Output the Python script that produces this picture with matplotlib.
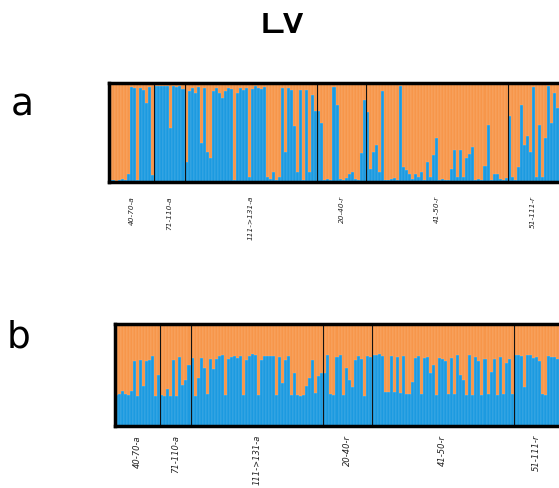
import matplotlib
matplotlib.use('Agg')
import matplotlib.pyplot as plt
from matplotlib.patches import Rectangle

groups = ['40-70-a', '71-110-a', '111->131-a', '20-40-r', '41-50-r', '51-111-r']

# blue (cluster 1) share per individual, panel a
a_vals = [
    [0.02, 0.02, 0.01, 0.02, 0.03, 0.02, 0.08, 0.96, 0.95, 0.02, 0.95, 0.93, 0.80, 0.96, 0.07],
    [0.97, 0.97, 0.97, 0.97, 0.97, 0.55, 0.97, 0.96, 0.97, 0.94],
    [0.20, 0.92, 0.95, 0.90, 0.96, 0.39, 0.95, 0.30, 0.24, 0.92, 0.95, 0.90, 0.85, 0.92, 0.95,
     0.94, 0.02, 0.90, 0.95, 0.93, 0.95, 0.05, 0.94, 0.97, 0.95, 0.94, 0.96, 0.05, 0.03, 0.10,
     0.02, 0.05, 0.95, 0.30, 0.95, 0.93, 0.57, 0.10, 0.93, 0.02, 0.93, 0.10, 0.88, 0.72],
    [0.72, 0.60, 0.02, 0.03, 0.02, 0.96, 0.78, 0.03, 0.02, 0.04, 0.08, 0.10, 0.03, 0.02, 0.29, 0.83],
    [0.71, 0.13, 0.30, 0.37, 0.10, 0.92, 0.02, 0.02, 0.03, 0.04, 0.02, 0.97, 0.15, 0.12, 0.08,
     0.03, 0.08, 0.05, 0.10, 0.02, 0.20, 0.05, 0.27, 0.44, 0.02, 0.03, 0.02, 0.02, 0.13, 0.32,
     0.05, 0.32, 0.05, 0.24, 0.28, 0.35, 0.02, 0.03, 0.02, 0.16, 0.58, 0.02, 0.08, 0.08, 0.03,
     0.02, 0.04],
    [0.67, 0.05, 0.02, 0.15, 0.78, 0.37, 0.46, 0.30, 0.96, 0.05, 0.58, 0.05, 0.44, 0.97, 0.60, 0.90, 0.75],
]

# blue share per individual, panel b
b_vals = [
    [0.30, 0.31, 0.34, 0.31, 0.30, 0.34, 0.64, 0.29, 0.65, 0.39, 0.64, 0.65, 0.69, 0.29, 0.50],
    [0.30, 0.29, 0.36, 0.29, 0.65, 0.29, 0.68, 0.40, 0.45, 0.60],
    [0.67, 0.29, 0.47, 0.67, 0.57, 0.31, 0.66, 0.56, 0.66, 0.69, 0.70, 0.30, 0.66, 0.68, 0.69,
     0.67, 0.69, 0.30, 0.65, 0.69, 0.71, 0.70, 0.30, 0.65, 0.69, 0.69, 0.69, 0.69, 0.30, 0.68,
     0.42, 0.65, 0.69, 0.30, 0.52, 0.30, 0.29, 0.30, 0.39, 0.47, 0.65, 0.32, 0.49, 0.52],
    [0.52, 0.70, 0.31, 0.30, 0.68, 0.70, 0.30, 0.57, 0.45, 0.38, 0.65, 0.69, 0.66, 0.29, 0.69, 0.68],
    [0.70, 0.70, 0.71, 0.69, 0.33, 0.33, 0.69, 0.33, 0.68, 0.32, 0.69, 0.31, 0.31, 0.43, 0.67,
     0.69, 0.31, 0.67, 0.68, 0.52, 0.60, 0.30, 0.67, 0.66, 0.64, 0.31, 0.67, 0.31, 0.70, 0.50,
     0.45, 0.30, 0.70, 0.30, 0.68, 0.64, 0.30, 0.66, 0.31, 0.53, 0.66, 0.30, 0.68, 0.31, 0.62,
     0.66, 0.31],
    [0.70, 0.70, 0.69, 0.38, 0.70, 0.70, 0.67, 0.68, 0.64, 0.31, 0.30, 0.69, 0.68, 0.68, 0.66],
]

blue = '#1c9ae0'
orange = '#f7964a'

W, H = 559, 488
fig = plt.figure(figsize=(W / 100, H / 100), dpi=100)


def structure_panel(vals, left, top, height, label_gap, fsize):
    flat = [v for g in vals for v in g]
    n = len(flat)
    step = (W - left) / n          # px per individual, last bar reaches the crop edge
    extra = 12
    ax = fig.add_axes([left / W, 1 - (top + height) / H, (n + extra) * step / W, height / H])
    x = [i + 0.5 for i in range(n)]
    seam = (1, 1, 1, 0.25)
    ax.bar(x, flat, width=1.0, color=blue, edgecolor=seam, linewidth=0.3)
    ax.bar(x, [1 - v for v in flat], bottom=flat, width=1.0, color=orange,
           edgecolor=seam, linewidth=0.3)
    ax.set_xlim(0, n + extra)
    ax.set_ylim(0, 1)
    ax.set_xticks([])
    ax.set_yticks([])
    for s in ax.spines.values():
        s.set_linewidth(2.5)
        s.set_color('black')
    start = 0
    for i, g in enumerate(vals):
        end = start + len(g)
        if i > 0:
            ax.axvline(start, color='#111111', lw=0.8)
        ax.text((start + end) / 2, -label_gap / height, groups[i], rotation=90,
                ha='center', va='top', fontsize=fsize, style='italic', color='#222222',
                transform=ax.get_xaxis_transform())
        start = end
    return ax


structure_panel(a_vals, 109, 83, 99, 14, 5.3)
structure_panel(b_vals, 115, 324, 102, 9, 6.0)

fig.text(22 / W, 1 - 105 / H, 'a', fontsize=27, ha='center', va='center')
fig.text(18 / W, 1 - 337 / H, 'b', fontsize=27, ha='center', va='center')

# title, its top is cut off in the source figure
fig.text(284 / W, 1 - 33 / H, 'LV', fontsize=32, ha='center', va='baseline')
fig.patches.append(Rectangle((0, 1 - 13 / H), 1, 13 / H, transform=fig.transFigure,
                             facecolor='white', edgecolor='none', zorder=10))

fig.savefig('out.png', dpi=100)
